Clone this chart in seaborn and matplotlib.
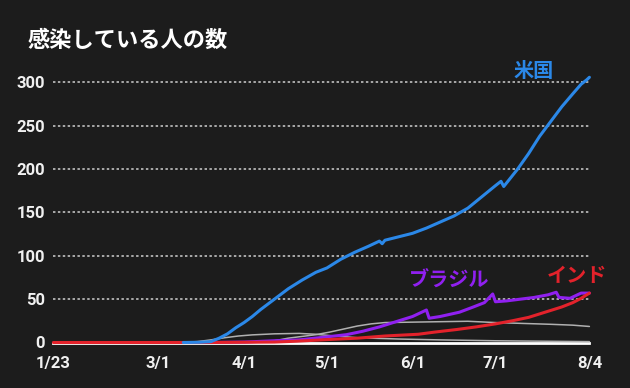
import matplotlib
matplotlib.use("Agg")
import matplotlib.pyplot as plt
import seaborn as sns
import pandas as pd

# ---------------- data (active infections, 10k people) ----------------
us_dates = ["3/10", "3/16", "3/20", "3/23", "3/26", "3/29", "4/1", "4/4", "4/7",
            "4/12", "4/17", "4/22", "4/27", "5/1", "5/6", "5/11", "5/16", "5/20", "5/21",
            "5/22", "5/27", "6/1", "6/6", "6/11", "6/16", "6/21", "6/26", "7/1", "7/3",
            "7/4", "7/6", "7/9", "7/13", "7/17", "7/21", "7/25", "7/29", "8/1", "8/3", "8/4"]
us_values = [0, 0.3, 1, 5, 10, 17, 23, 30, 38,
             50, 62, 72, 81, 86, 96, 104, 111, 117, 114,
             118, 122, 126, 132, 139, 146, 155, 168, 181, 186,
             180, 188, 200, 218, 238, 255, 272, 287, 298, 303, 306]

br_dates = ["3/20", "4/1", "4/12", "4/21", "5/1", "5/8", "5/14", "5/20", "5/27",
            "6/1", "6/6", "6/7", "6/11", "6/18", "6/23", "6/27", "6/30", "7/1", "7/5",
            "7/10", "7/15", "7/20", "7/23", "7/24", "7/28", "8/1", "8/4"]
br_values = [0, 0.5, 2, 3, 6.5, 9, 13, 18, 25,
             30, 37.5, 28, 30, 35, 41, 46, 56, 47, 48,
             50, 52, 55, 58, 52, 51, 57, 57]

in_dates = ["1/23", "3/20", "4/12", "4/20", "5/2", "5/12", "5/22", "6/3", "6/9", "6/17",
            "6/24", "7/1", "7/7", "7/13", "7/19", "7/25", "7/29", "8/1", "8/4"]
in_values = [0, 0, 0.5, 1.5, 3.5, 5, 7.5, 9.5, 12, 15,
             18, 21.5, 25, 29, 35, 41, 46, 51, 57]

g1_dates = ["3/8", "3/15", "3/20", "3/25", "3/30", "4/4", "4/12", "4/21", "4/27",
            "5/2", "5/12", "5/27", "6/11", "7/1", "8/4"]
g1_values = [0, 1, 3, 5.5, 7.5, 8.8, 10, 10.5, 9.5,
             8, 5.5, 4, 3, 2, 1]

g2_dates = ["4/1", "4/7", "4/12", "4/17", "4/22", "4/27", "5/2", "5/7", "5/12",
            "5/17", "5/22", "6/1", "6/11", "6/21", "7/1", "7/11", "7/21", "7/29", "8/4"]
g2_values = [0, 0.5, 2, 5, 7, 9, 12, 15.5, 19,
             21.5, 23, 23.5, 24, 24.5, 23, 22, 21, 20, 18.5]

tick_dates = ["1/23", "3/1", "4/1", "5/1", "6/1", "7/1", "8/4"]
y_ticks = [0, 50, 100, 150, 200, 250, 300]

title = "感染している人の数"
labels = {"us": "米国", "br": "ブラジル", "in": "インド"}

# ---------------- style ----------------
BG = "#1c1c1c"
sns.set_theme(style="dark")
plt.rcParams["font.family"] = ["Roboto", "Noto Sans CJK JP", "DejaVu Sans"]

def to_dt(lst):
    return pd.to_datetime(["2020/" + d for d in lst], format="%Y/%m/%d")

fig = plt.figure(figsize=(6.3, 3.88), dpi=100, facecolor=BG)
ax = fig.add_axes([53.4 / 630, 45.5 / 388, 536 / 630, 310 * 0.8667 / 388])
ax.set_facecolor(BG)

series = [
    (g1_dates, g1_values, "#b0b0b0", 1.1, 2),
    (g2_dates, g2_values, "#b0b0b0", 1.1, 2),
    (br_dates, br_values, "#9020f0", 2.2, 3),
    (in_dates, in_values, "#e3222b", 2.2, 4),
    (us_dates, us_values, "#2b88e8", 2.2, 5),
]
for d, v, c, lw, z in series:
    df = pd.DataFrame({"date": to_dt(d), "value": v})
    sns.lineplot(data=df, x="date", y="value", color=c, linewidth=lw, ax=ax,
                 zorder=z, clip_on=False)

ax.set_xlim(pd.Timestamp("2020-01-23"), pd.Timestamp("2020-08-04"))
ax.set_ylim(0, 310)
ax.set_xlabel("")
ax.set_ylabel("")

ax.set_yticks(y_ticks)
ax.set_yticklabels([str(t) for t in y_ticks])
ax.set_xticks(to_dt(tick_dates))
ax.set_xticklabels(tick_dates)

for s in ["top", "right", "left"]:
    ax.spines[s].set_visible(False)
ax.spines["bottom"].set_color("white")
ax.spines["bottom"].set_linewidth(2)
ax.spines["bottom"].set_zorder(1.5)

ax.tick_params(axis="y", length=0, pad=6, labelcolor="#f0f0f0", labelsize=12)
ax.tick_params(axis="x", length=5, width=1.5, color="white", direction="out",
               pad=5, labelcolor="#f0f0f0", labelsize=12)
for lab in ax.get_xticklabels() + ax.get_yticklabels():
    lab.set_fontweight("bold")

ax.grid(False)
for t in y_ticks[1:]:
    ax.axhline(t, color="#cfcfcf", linewidth=1.1, linestyle=(0, (1.6, 1.6)), zorder=1)

fig.text(28 / 630, 1 - 40 / 388, title, color="white", fontsize=16, fontweight="bold",
         family=["Noto Sans CJK JP", "DejaVu Sans"], ha="left", va="center")

last = pd.Timestamp("2020-08-04")
ann = [
    ("us", us_values[-1], "#2b88e8", (-40.5, 4.9)),
    ("br", br_values[-1], "#9020f0", (-101, 9)),
    ("in", in_values[-1], "#e3222b", (-9, 12.7)),
]
for key, val, c, off in ann:
    ax.annotate(labels[key], xy=(last, val), xytext=off, textcoords="offset points",
                ha="center", va="center", color=c, fontsize=14.5, fontweight="bold",
                family=["Noto Sans CJK JP", "DejaVu Sans"], annotation_clip=False)

fig.savefig("out.png", dpi=100, facecolor=BG)
